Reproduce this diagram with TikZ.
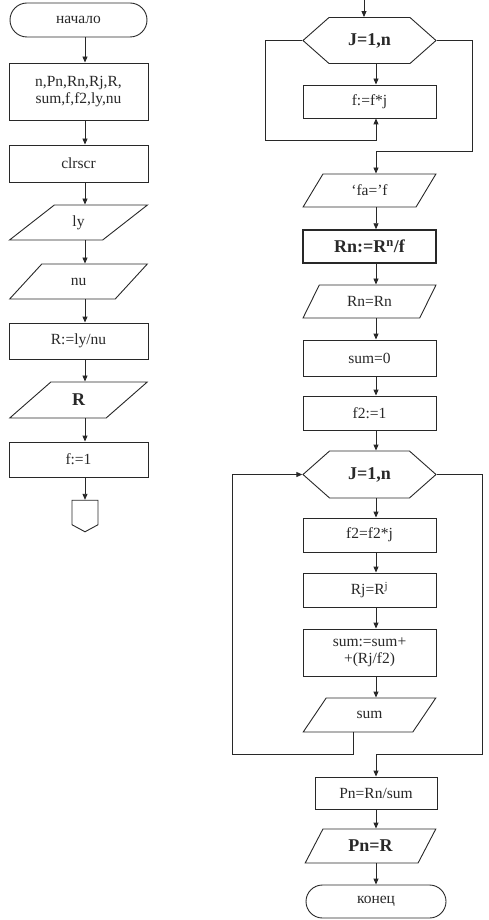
\documentclass[tikz,border=0pt]{standalone}
\usepackage{fontspec}
\setmainfont{Liberation Serif}
\usepackage{tikz}
\usetikzlibrary{arrows.meta,calc,shapes.geometric,shapes.misc,shapes.symbols}
\definecolor{ink}{RGB}{40,40,40}
\tikzset{
  blk/.style={draw=ink, line width=0.9pt, text=ink, inner sep=1pt, align=center,
    font=\fontsize{15.5}{17}\selectfont},
  boldtxt/.style={font=\fontsize{18}{20}\selectfont\bfseries},
  proc/.style={blk, rectangle, minimum height=35pt},
  procL/.style={proc, minimum width=139pt},            % left column boxes
  procR/.style={proc, minimum width=133pt},            % right column boxes
  io/.style={blk, trapezium, trapezium stretches=true, minimum height=35pt},
  ioL/.style={io, trapezium left angle=51, trapezium right angle=129, minimum width=138pt},
  ioR/.style={io, trapezium left angle=58, trapezium right angle=122, minimum width=133pt},
  term/.style={blk, rounded rectangle, minimum height=34pt},
  loophead/.style={blk, boldtxt, signal, signal to=west and east, signal pointer angle=83,
    minimum width=133pt, minimum height=46pt},
  offpage/.style={blk, signal, signal to=south, signal pointer angle=123,
    minimum width=26pt, minimum height=25pt},
  flow/.style={-{Triangle[length=6pt,width=5pt]}, draw=ink, line width=0.9pt}
}

\begin{document}
\begin{tikzpicture}[x=1pt, y=-1pt]
  \useasboundingbox (0,0) rectangle (488,920);
  % arrow lines of the two columns
  \coordinate (colL) at (85,0);
  \coordinate (colR) at (376,0);
  \coordinate (entry) at (364,0);

  % left column
  \node[term, minimum width=139pt] (start) at (78.5,20) {начало};
  \node[procL, minimum height=57pt] (vars) at (78.5,91.5) {n,Pn,Rn,Rj,R,\\sum,f,f2,ly,nu};
  \node[procL, minimum height=37pt] (clr) at (78.5,163.5) {clrscr};
  \node[ioL] (ly) at (78.5,222.5) {ly};
  \node[ioL] (nu) at (78.5,281.5) {nu};
  \node[procL, minimum height=36pt] (calcR) at (78.5,341) {R:=ly/nu};
  \node[ioL, boldtxt, minimum height=36pt] (outR) at (78.5,400) {R};
  \node[procL] (finit) at (78.5,459.5) {f:=1};
  \node[offpage] (link) at (85,512.5) {};

  \foreach \a/\b in {start/vars, vars/clr, clr/ly, ly/nu, nu/calcR, calcR/outR, outR/finit, finit/link}
    \draw[flow] (\a.south -| colL) -- (\b.north -| colL);

  % right column, first loop
  \node[loophead] (hexA) at (369.5,40.5) {J=1,n};
  \node[procR, minimum height=33pt] (ffj) at (369.5,101.5) {f:=f*j};
  \node[ioR, minimum height=33pt] (fa) at (369.5,190.5) {‘fa=’f};
  \node[procR, boldtxt, line width=1.5pt, minimum height=33pt] (Rn) at (369.5,246.5) {Rn:=R\textsuperscript{n}/f};
  \node[ioR, minimum height=33pt] (RnOut) at (369.5,301.5) {Rn=Rn};
  \node[procR, minimum height=36pt] (sum0) at (369.5,358) {sum=0};
  \node[procR, minimum height=34pt] (f2i) at (369.5,413) {f2:=1};

  % second loop
  \node[loophead, minimum height=47pt] (hexB) at (369.5,474.5) {J=1,n};
  \node[procR, minimum height=34pt] (f2j) at (369.5,535) {f2=f2*j};
  \node[procR, minimum height=34pt] (Rj) at (369.5,590) {Rj=R\textsuperscript{j}};
  \node[procR, minimum height=47pt] (sumAdd) at (369.5,652.5) {sum:=sum+\\+(Rj/f2)};
  \node[ioR, trapezium left angle=52, trapezium right angle=128, minimum height=34pt] (sumOut) at (369.5,715) {sum};
  \node[proc, minimum width=122pt, minimum height=32pt] (Pn) at (376,793) {Pn=Rn/sum};
  \node[ioR, boldtxt, minimum width=131pt, minimum height=34pt] (PnR) at (370.5,846) {Pn=R};
  \node[term, minimum width=142pt, minimum height=33pt] (stop) at (376,901.5) {конец};

  \draw[flow] (entry) -- (entry |- hexA.north);
  \foreach \a/\b in {hexA/ffj, fa/Rn, Rn/RnOut, RnOut/sum0, sum0/f2i, f2i/hexB,
                     hexB/f2j, f2j/Rj, Rj/sumAdd, sumAdd/sumOut, Pn/PnR, PnR/stop}
    \draw[flow] (\a.south -| colR) -- (\b.north -| colR);

  % loop returns and exits
  \draw[flow] (hexA.west) -- ++(-37,0) |- ($(ffj.south -| colR)+(0,22)$) -- (ffj.south -| colR);
  \draw[flow] (hexA.east) -- ++(36,0) |- ($(fa.north -| colR)+(0,-22)$) -- (fa.north -| colR);
  \draw[flow] ($(sumOut.south -| colR)+(-23,0)$) -- ++(0,22) -- ++(-121,0) |- (hexB.west);
  \draw[flow] (hexB.east) -- ++(46,0) |- ($(Pn.north -| colR)+(0,-22)$) -- (Pn.north -| colR);
\end{tikzpicture}
\end{document}
